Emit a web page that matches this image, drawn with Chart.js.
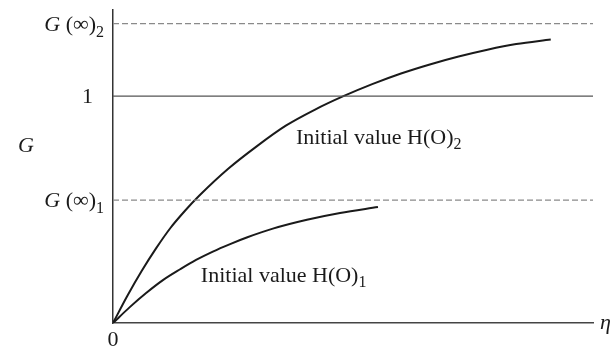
<!DOCTYPE html>
<html>
<head>
<meta charset="utf-8">
<script src="https://cdn.jsdelivr.net/npm/chart.js@4.4.1/dist/chart.umd.min.js"></script>
<style>
  html, body { margin: 0; padding: 0; background: #fff; }
  #wrap { width: 615px; height: 348px; position: relative; }
</style>
</head>
<body>
<div id="wrap"><canvas id="myChart"></canvas></div>
<script>
// data (eta, G)
var eta1 = [0, 0.35, 0.69, 1.04, 1.40, 1.73, 2.08, 2.44, 2.8, 3.33, 4.04, 4.73, 5.52];
var g1   = [0, 0.070, 0.132, 0.189, 0.237, 0.278, 0.315, 0.348, 0.378, 0.416, 0.455, 0.485, 0.511];

var eta2 = [0, 0.3, 0.6, 0.9, 1.2, 1.5, 1.8, 2.4, 3.0, 3.6, 4.2, 4.8, 5.4, 6.0, 6.6, 7.2, 7.8, 8.4, 9.12];
var g2   = [0, 0.12, 0.23, 0.33, 0.42, 0.495, 0.562, 0.68, 0.78, 0.87, 0.94, 1.0, 1.053, 1.10, 1.14, 1.175, 1.205, 1.23, 1.25];

var gInf1 = 0.542;
var gInf2 = 1.32;
var gOne = 1;
var etaMax = 10;
var gMax = 1.38;

function pts(xs, ys) {
  return xs.map(function (x, i) { return { x: x, y: ys[i] }; });
}

function hline(y, color, dash) {
  return {
    data: [{ x: 0, y: y }, { x: etaMax, y: y }],
    borderColor: color,
    borderWidth: 1.3,
    borderDash: dash,
    pointRadius: 0,
    tension: 0
  };
}

function curve(xs, ys) {
  return {
    data: pts(xs, ys),
    borderColor: '#1a1a1a',
    borderWidth: 2,
    pointRadius: 0,
    cubicInterpolationMode: 'monotone'
  };
}

var serif = "'Liberation Serif', 'DejaVu Serif', serif";

// draws the tick labels and text notes (with subscripts)
var labelsPlugin = {
  id: 'labels',
  afterDraw: function (chart) {
    var ctx = chart.ctx;
    var xs = chart.scales.x, ys = chart.scales.y;
    ctx.save();
    ctx.fillStyle = '#1a1a1a';
    ctx.textBaseline = 'alphabetic';

    function gInfLabel(subText, xRight, yMid) {
      ctx.font = '16px ' + serif;
      var wSub = ctx.measureText(subText).width;
      ctx.font = '22px ' + serif;
      var wPar = ctx.measureText(' (∞)').width;
      ctx.font = 'italic 22px ' + serif;
      var wG = ctx.measureText('G').width;
      var x0 = xRight - wSub - wPar - wG;
      ctx.textAlign = 'left';
      ctx.fillText('G', x0, yMid + 7);
      ctx.font = '22px ' + serif;
      ctx.fillText(' (∞)', x0 + wG, yMid + 7);
      ctx.font = '16px ' + serif;
      ctx.fillText(subText, x0 + wG + wPar, yMid + 13);
    }

    var xr = xs.getPixelForValue(0) - 9;
    gInfLabel('2', xr, ys.getPixelForValue(gInf2));
    gInfLabel('1', xr, ys.getPixelForValue(gInf1));

    ctx.font = '22px ' + serif;
    ctx.textAlign = 'right';
    ctx.fillText('1', xr - 11, ys.getPixelForValue(gOne) + 7);
    ctx.textAlign = 'center';
    ctx.fillText('0', xs.getPixelForValue(0), ys.getPixelForValue(0) + 23);

    ctx.font = 'italic 22px ' + serif;
    ctx.textAlign = 'left';
    ctx.fillText('G', 18, ys.getPixelForValue(0.785) + 7);
    ctx.fillText('η', xs.getPixelForValue(etaMax) + 7, ys.getPixelForValue(0) + 6);

    function note(subText, xv, yv) {
      ctx.font = '22px ' + serif;
      ctx.textAlign = 'left';
      var px = xs.getPixelForValue(xv), py = ys.getPixelForValue(yv);
      ctx.fillText('Initial value H(O)', px, py);
      var w = ctx.measureText('Initial value H(O)').width;
      ctx.font = '16px ' + serif;
      ctx.fillText(subText, px + w, py + 5);
    }
    note('2', 3.81, 0.788);
    note('1', 1.83, 0.181);
    ctx.restore();
  }
};

new Chart(document.getElementById('myChart'), {
  type: 'line',
  data: {
    datasets: [
      hline(gInf2, '#8a8a8a', [6, 3]),
      hline(gInf1, '#8a8a8a', [6, 3]),
      hline(gOne, '#555555', []),
      curve(eta1, g1),
      curve(eta2, g2)
    ]
  },
  options: {
    responsive: true,
    maintainAspectRatio: false,
    animation: false,
    layout: { padding: { left: 113, top: 10, right: 22, bottom: 25 } },
    plugins: { legend: { display: false }, tooltip: { enabled: false } },
    scales: {
      x: {
        type: 'linear', min: 0, max: etaMax,
        grid: { display: false },
        border: { display: true, color: '#444', width: 1.5 },
        ticks: { display: false },
        afterFit: function (s) { s.height = 0; }
      },
      y: {
        type: 'linear', min: 0, max: gMax,
        grid: { display: false },
        border: { display: true, color: '#333', width: 1.5 },
        ticks: { display: false },
        afterFit: function (s) { s.width = 0; }
      }
    }
  },
  plugins: [labelsPlugin]
});
</script>
</body>
</html>
